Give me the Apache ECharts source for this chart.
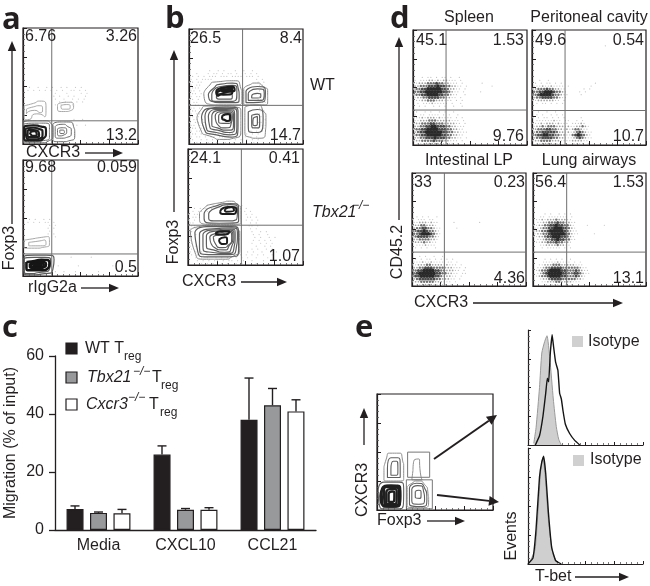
<!DOCTYPE html>
<html><head><meta charset="utf-8">
<style>html,body{margin:0;padding:0;background:#fff}#c{width:650px;height:586px}</style>
<script src="https://cdn.jsdelivr.net/npm/echarts@6/dist/echarts.min.js"></script>
</head><body><div id="c"></div>
<script>
// ---------- bar chart (c)
const categories = ['Media','CXCL10','CCL21'];
const wtValues = [7.2,26,38];
const tbx21Values = [5.9,7,43];
const cxcr3Values = [5.8,7,40.9];
const wtErrorTop = [8.3,29,52.4];
const tbx21ErrorTop = [6.2,7.4,48.8];
const cxcr3ErrorTop = [7.1,7.7,44.9];
const yTicks = [0,20,40,60];

// ---------- quadrant gates [x, y], in percent of each panel
const gateA1=[25,20], gateA2=[25,19], gateB1=[47,33.6], gateB2=[46.4,34.3];
const gateD1=[29,30.4], gateD2=[29,30], gateD3=[28.4,30], gateD4=[29.8,30];

// ---------- dot-plot density rows: [row, digits], 40x40 cells, 0 empty .. 5 densest
const spleen=[[16,"0001011010110100100"],[17,"1011122121221110100"],[18,"1122233343322111010000001"],[19,"2233344454433221101000000001"],[20,"2334455555443221101"],[21,"3344555555443211010000010"],[22,"2334455554433211001"],[23,"1223344443322110100"],[24,"0112233322211101010"],[25,"0101112111110100100"],[26,"0010100101010010010"],[28,"0100101001010010000"],[29,"1011011110101001000"],[30,"1112122212111101010"],[31,"1122233322222111010"],[32,"1223334433322221101"],[33,"2233445544433221110"],[34,"2334455554443322110"],[35,"2344555555443322111"],[36,"2334455555443322110"],[37,"2233444544433221101"],[38,"1223333433322111010"],[39,"0111222222111101000"]];
const peritoneal=[[5,"000000000000000000000000010"],[17,"0010010000000000"],[18,"0101011010100000000000100"],[19,"1112112111101000000010"],[20,"2233343322110000001010"],[21,"3344555433210000101"],[22,"3345555433211000010"],[23,"2334444332110000"],[24,"1122222211010"],[25,"0101101010100"],[28,"0010010010000"],[29,"0101001010100000"],[30,"1010110101010000010"],[31,"0111111211011001010"],[32,"1112122212111011121"],[33,"1223233322212112232100"],[34,"2233344332212123321100"],[35,"2334444432212123432110"],[36,"3344554433221134543210"],[37,"2334444332211123432110"],[38,"1223333222111122221100"],[39,"0112222111010011110100"]];
const intestinal=[[15,"0101010010"],[16,"1011101100"],[17,"1122212110000010000000010"],[18,"2223322210"],[19,"2334433211000001"],[20,"3344543321"],[21,"3345554321"],[22,"2344443321"],[23,"2233332210"],[24,"1222322110"],[25,"0111211100"],[26,"0101010010"],[29,"0010100100100000"],[30,"0101011010101010000"],[31,"1112112111101101000"],[32,"1122233222212111010"],[33,"2233444333322211101"],[34,"3344555544332221101"],[35,"3455555544332211011"],[36,"3445555544322211010"],[37,"2344444433222110100"],[38,"1223333322211101000"],[39,"0112222111110100000"]];
const lung=[[14,"0000101001010100"],[15,"0011011111110100"],[16,"0112122232221100"],[17,"0112233343322110"],[18,"1122334454433210000100000100"],[19,"1123344555443210"],[20,"1223345555543211"],[21,"1223345555543211000001"],[22,"1122344555443210"],[23,"0112334454433110"],[24,"0112233343322100"],[25,"0011222232211000"],[26,"0001011111010100"],[30,"00001010101001000000"],[31,"00011111211110101000"],[32,"00112223332222211100"],[33,"01123344443333332110"],[34,"01233455554433343211"],[35,"01234555554433443211"],[36,"01233455554433343210"],[37,"00122344443333322100"],[38,"00011222332222111000"],[39,"00001011110101000000"]];
const stippleB1=[[14,"000000010010100010010010000"],[15,"001000101101011010110101000"],[16,"010101011101110111101110100"],[17,"101011110000000000000001010"],[18,"110110000000000000000000101"],[19,"101100000000000000000000110"],[20,"011100000000000000000000011"],[21,"110100000000000000000000101"],[22,"011010000000000000000000010"],[23,"101100000000000000000000101"],[24,"110100000000000000000000110"],[25,"011000000000000000000000011"],[26,"101100000000000000000000101"],[27,"110100000000000000000000110"],[28,"011000000000000000000000011"],[29,"101100000000000000000000101"],[30,"110100000000000000000000010"],[31,"011010000000000000000000101"],[32,"101101000000000000000000110"],[33,"110110000000000000000000011"],[34,"011011100000000000000010101"],[35,"101101101000000000000101010"],[36,"011010110110001100101010100"],[37,"101101011011010111010101000"],[38,"010010101010101010101010100"],[39,"001000100100100100100010000"]];
const stippleB2=[[19,"00000010100101001010"],[20,"00101010110101101010100"],[21,"0101101000000000000101000"],[22,"1011000000000000000010100"],[23,"0110000000000000000011010"],[24,"1010000000000000000010101"],[25,"1100000000000000000001010"],[26,"0110000000000000000001101"],[27,"1010000000000000000001010"],[28,"0100000000000000000000100101"],[29,"1010000000000000000000101001"],[30,"0100000000000000000000010100101"],[31,"1000000000000000000000101010100"],[32,"0100000000000000000000100101010"],[33,"1010000000000000000000010010100"],[34,"0101000000000000000000101001010"],[35,"1010100000000000000010100100101"],[36,"0101010000000000001010101010010"],[37,"0010101001010100101010010001000"],[38,"0001010101101011010100100010000"],[39,"0000101010010100101000010000000"]];
const stippleA1=[[20,"00100100101001010010100"],[21,"01010101010101001101010"],[22,"00000000000100010000101"],[23,"00000000001010010100010"],[24,"00000000000100100101010"],[25,"00000000000010101010100"],[26,"00000000000101000100000"],[31,"00000000000000000100100"],[33,"00000000000000000010010"]];
const stippleA2=[[20,"00101001010000"],[21,"01010101101000"],[22,"00000000010100"],[23,"00000000101000"],[24,"00000000010000"],[25,"00000000101000"],[26,"00000000000100"],[33,"00000000001000001000000100"],[36,"00000000000010000001000000000001"],[38,"00000000000100100010000000100"]];

// ---------- contour loops [x,y,...], percent of panel; grouped by ink tone
const a1Light=[[1,33,9,35,14.5,37,20,31,19,23.5,12,26,4,21,1,24],[30,34,38,36,44,33,42,29,35,28,30,31],[3,30,9,32,14,33,17,30,15,27,10,29,3,26],[33,33,38,34,41,32,38,30,34,30]];
const a1Mid=[[0.5,19,8,20,17,20,24,18,26,10,23,3,12,1,0.5,1],[26,17,32,19,38,19,44,15,45,9,41,3,33,2,26,4],[28,15,34,17,39,15,42,11,39,6,32,5,28,8],[30,13,34,14,38,11,36,8,32,7,30,10],[32,12,35,12,36,10,34,9,32,10],[0.5,17,10,18,18,18,23,14,23,7,18,3,8,2,0.5,3]];
const a1Dark=[[1,15,9,16,16,15,20,11,18,5,10,3,1,4],[2,13,9,14,14,13,17,9,15,5,8,4,3,6],[4,12,9,12,13,11,14,8,11,6,6,6,4,8],[6,10,10,11,12,8,9,7,7,8]];
const a2Light=[[1,31,8,32,14,33,22,34,23,29,19,25,10,24,1,24],[5,29,13,30,19,31,20,28,13,26,5,26]];
const a2Mid=[[1,17,10,18,20,18,27,14,26,6,19,2,8,1,1,2],[1,15,10,16,19,16,24,13,23,6,14,3,6,2,1,4]];
const a2Dark=[[3,12,10,13,16,14,23,11,22,7,13,5,6,5,3,7],[6,11,14,12,20,10,19,8,12,7,6,8],[7,10,13,11,18,10,17,8,12,8,8,8],[9,10,14,10,16,9,12,9]];
const b1Light=[[13,44,17,50,24,54,39,55,45,50,46.4,42,46,35,33,34,16,35],[7,23,10,29,17,33,33,33,42,32,45.5,26,45.5,15,39,5,30,4,18,7,10,13],[48,48,52,51,59,53,65,50,69,45,69,38,66,34,48,34],[49,32,59,34,65,29,67.5,23,67,10,60,5,53,6,49,13]];
const b1Mid=[[17,43,21,48,28,52,38,53,43,49,44,41,41,36,30,36,20,37],[20,43,28,50,38,51,42,46,41,38,30,37,20,38],[11,23,17,31,33,32,43,29,43,16,37,6,24,8,13,14],[14,24,20,31,33,31,42,27,42,16,36,8,24,10,15,15],[17,24,23,30,33,30,40,26,40,17,35,10,25,12,18,16],[20,24,25,29,33,29,39,25,39,17,33,12,25,14,20,18],[23,24,27,28,34,28,38,24,37,18,32,14,26,16],[26,24,30,27,35,27,37,23,35,18,30,18,26,20],[52,44,60,48,66,44,64,38,52,38],[55,42,60,44,63,42,60,40,55,40],[52,28,60,30,65,22,64,12,57,10,52,16],[55,25,60,26,62,20,61,14,57,14,55,18],[57,23,60,24,60,18,58,16,56,19],[24,41,30,44,36,45,38,41,34,39,26,39],[50,46,60,50,67,45,66,37,50,36]];
const b1Dark=[[24,46,30,49,38,50,40,47,32,45,25,42],[28,47,33,49,38,49,36,47,30,46],[30,25,34,26,36,23,34,20,31,21,29,23],[24,44,30,47,37,48,38,45,30,43]];
const b2Light=[[10,45,14,49,19,52,30,54,36,55,43,52,46,47,46,36,25,35,10,40],[2,30,9,33,16,34,39,34,43,31,45,27,45,14,40,8,30,5,16,5,6,11]];
const b2Mid=[[14,44,21,50,37,53,44,48,44,38,27,36,14,40],[18,44,24,49,37,52,43,47,42,39,28,38,18,40],[6,28,16,33,38,33,44,27,44,14,35,7,17,7,8,14],[10,27,18,31,38,32,43,26,42,15,34,9,18,9,10,16],[13,26,20,30,38,31,41,26,40,15,33,10,20,11,13,17],[16,25,22,29,37,30,40,25,38,16,32,11,22,13,16,18],[19,24,24,27,37,29,39,24,36,17,31,13,23,15],[22,24,26,26,37,28,38,24,35,17,30,15,24,18]];
const b2Dark=[[28,46,35,50,42,48,40,44,30,44],[24,27,30,29,36,29,35,27,28,26],[27,22,32,24,34,21,31,18,28,19],[32,48,38,50,40,47,33,46]];
const eLight=[[6,37,8,44,11,49,19,49,22,43,23,37,23,26,14,25,6,26],[26,20,30,23,34.5,25,41,22,44,14,44.5,9,40,2,26,3],[31,34,32,43,36,44,37.4,32,39,26,30,26]];
const eMid=[[9,36,12,45,18,45,20,37,20,28,9,28],[12,35,14,42,17,42,18,35,17,30,12,30],[30,18,35,21,40,17,41,9,36,5,30,8],[33,16,36,17,38,14,37,10,33,11],[1,17,6,24,19,24,23,17,20,1,4,1],[28,19,34,23,41,19,43,10,38,3,28,5]];
const eDark=[[4,16,8,21,18,21,20,15,17,3,6,3],[8,15,11,18,16,18,17,13,15,5,8,5],[10,14,13,16,15,14,14,7,10,7],[6,19,9,20,18,19,19,14,16,4,7,4],[3,12,6,19,12,21,20,12,14,3,5,4]];
const gateUpper=[[26.4,49.9],[45.4,49.9],[45.4,28.2],[26.4,28.2],[26.4,49.9]];
const gateLower=[[25.3,26],[47.7,26],[47.7,1],[25.3,1],[25.3,26]];

// ---------- histograms [x%, height%]
const isotypeTop=[[5,1.5],[7,15],[10,50],[12,80],[14.5,90],[16.5,95],[19,75],[22,40],[24.6,16],[26.7,5],[29,0]];
const tbetTop=[[6.4,0],[10,8],[13,25],[15.4,45],[16.8,58],[18,55],[19.4,80],[21,96],[22.3,85],[24,72],[26,65],[27.5,45],[29,40],[30.4,30],[32.5,18],[36.2,10],[40.6,4],[45,0]];
const isotypeBottom=[[1,1],[6,12],[8.7,45],[11,80],[13,92],[15.4,70],[18,35],[21.7,9],[26,0]];
const tbetBottom=[[0,0],[4.3,5],[7,30],[10,75],[12,88],[13.6,93],[15.4,78],[17.7,45],[20.6,14],[24,3],[29,0]];

// ---------- build
const INK='#231f20', FONT='"Liberation Sans",Arial,sans-serif';
const grids=[],xAxes=[],yAxes=[],series=[],graphic=[];
function panel(left,top,w,h,box){
  const i=grids.length;
  grids.push({left,top,width:w,height:h,show:!!box,borderColor:INK,borderWidth:1.2,backgroundColor:'transparent',containLabel:false});
  const ax=()=>({type:'value',gridIndex:i,min:0,max:100,interval:25,splitLine:{show:false},axisLabel:{show:false},
    axisLine:{show:true,onZero:false,lineStyle:{color:INK,width:1.2}},axisTick:{show:true,inside:true,length:4,lineStyle:{color:INK,width:1}},
    minorTick:{show:true,splitNumber:5,length:2,lineStyle:{color:'#555',width:.8}},minorSplitLine:{show:false}});
  xAxes.push(ax());yAxes.push(ax());
  return i;
}
const levelSize=[0,1.2,1.7,2.4,3,3.7], levelColor=['','#c2c2c2','#a0a0a0','#727272','#4a4a4a','#2a2a2a'];
function density(g,rows,light){
  const data=[];
  rows.forEach(([r,s])=>{[...s].forEach((c,k)=>{const v=+c;if(v)data.push([(k+.5)*2.5+(r%2?.6:-.6),100-(r+.5)*2.5,v]);});});
  series.push({type:'scatter',xAxisIndex:g,yAxisIndex:g,silent:true,animation:false,data,
    symbolSize:d=>levelSize[d[2]],itemStyle:{color:p=>light?'#c8c8c8':levelColor[p.data[2]],opacity:1}});
}
function loops(g,list,color,width){
  list.forEach(l=>{const d=[];for(let i=0;i<l.length;i+=2)d.push([l[i],l[i+1]]);d.push(d[0]);
    series.push({type:'line',xAxisIndex:g,yAxisIndex:g,data:d,smooth:.9,showSymbol:false,silent:true,animation:false,lineStyle:{color,width}});});
}
function gate(g,[gx,gy]){
  [[[gx,0],[gx,100]],[[0,gy],[100,gy]]].forEach(d=>series.push({type:'line',xAxisIndex:g,yAxisIndex:g,data:d,showSymbol:false,silent:true,animation:false,z:5,lineStyle:{color:'#6f6f6f',width:1}}));
}
function T(text,x,y,o={}){graphic.push({type:'text',x,y,rotation:o.rot||0,z:50,silent:true,style:{text,fill:INK,fontFamily:o.family||FONT,fontSize:o.size||16,fontWeight:o.weight||'normal',fontStyle:o.style||'normal',align:o.align||'left',verticalAlign:o.va||'middle'}});}
function arrow(x1,y1,x2,y2,lw=1.3,hl=10,hw=4.2){
  const L=Math.hypot(x2-x1,y2-y1),ux=(x2-x1)/L,uy=(y2-y1)/L,bx=x2-ux*hl,by=y2-uy*hl;
  graphic.push({type:'line',z:40,silent:true,shape:{x1,y1,x2:bx,y2:by},style:{stroke:INK,lineWidth:lw}});
  graphic.push({type:'polygon',z:40,silent:true,shape:{points:[[x2,y2],[bx-uy*hw,by+ux*hw],[bx+uy*hw,by-ux*hw]]},style:{fill:INK}});
}
function quad(labels){labels.forEach(([t,x,y,a])=>T(t,x,y,{align:a||'left'}));}

// a
let g=panel(23,28,115,116,true);density(g,stippleA1,true);loops(g,a1Light,'#a8a8a8',1);loops(g,a1Mid,'#6a6a6a',1);loops(g,a1Dark,'#1d1d1d',2.2);gate(g,gateA1);
g=panel(23,160,115,116,true);density(g,stippleA2,true);loops(g,a2Light,'#a8a8a8',1);loops(g,a2Mid,'#5a5a5a',1.2);loops(g,a2Dark,'#151515',2.6);gate(g,gateA2);
// b
g=panel(189,29,114,115,true);density(g,stippleB1,true);loops(g,b1Light,'#8a8a8a',1);loops(g,b1Mid,'#5f5f5f',1.2);loops(g,b1Dark,'#1d1d1d',2.2);gate(g,gateB1);
g=panel(188,149,115,116,true);density(g,stippleB2,true);loops(g,b2Light,'#8a8a8a',1);loops(g,b2Mid,'#5f5f5f',1.2);loops(g,b2Dark,'#1d1d1d',2);gate(g,gateB2);
// d
g=panel(413,30,114,115,true);density(g,spleen);gate(g,gateD1);
g=panel(532,30,114,115,true);density(g,peritoneal);gate(g,gateD2);
g=panel(412,173,114,113,true);density(g,intestinal);gate(g,gateD3);
g=panel(533,173,113,113,true);density(g,lung);gate(g,gateD4);
// e contour
g=panel(377,394,116,116,true);loops(g,eLight,'#8f8f8f',1);loops(g,eMid,'#5f5f5f',1.1);loops(g,eDark,'#1f1f1f',2.4);
[gateUpper,gateLower].forEach(d=>series.push({type:'line',xAxisIndex:g,yAxisIndex:g,data:d,showSymbol:false,silent:true,animation:false,z:5,lineStyle:{color:'#777',width:1}}));
// e histograms
function hist(top,iso,tb){
  const i=panel(528,top,115,top===330?115:116,false);
  xAxes[i].axisTick.length=3;yAxes[i].axisTick.length=3;
  series.push({type:'line',xAxisIndex:i,yAxisIndex:i,data:iso,showSymbol:false,silent:true,animation:false,smooth:.2,lineStyle:{color:'#9a9a9a',width:1},areaStyle:{color:'#cfcfcf',opacity:1}});
  series.push({type:'line',xAxisIndex:i,yAxisIndex:i,data:tb,showSymbol:false,silent:true,animation:false,smooth:.1,z:4,lineStyle:{color:'#151515',width:1.4}});
}
hist(330,isotypeTop,tbetTop);hist(448,isotypeBottom,tbetBottom);

// c bar chart
const bi=grids.length;
grids.push({left:55,top:356,width:261,height:174});
xAxes.push({type:'category',gridIndex:bi,data:categories,axisLine:{lineStyle:{color:INK,width:1.3}},axisTick:{alignWithLabel:true,length:5,lineStyle:{color:INK,width:1.3}},axisLabel:{color:INK,fontSize:16,fontFamily:FONT,margin:8}});
yAxes.push({type:'value',gridIndex:bi,min:0,max:60,interval:20,splitLine:{show:false},axisLine:{show:true,lineStyle:{color:INK,width:1.3}},axisTick:{show:true,length:6,lineStyle:{color:INK,width:1.3}},
  axisLabel:{color:INK,fontSize:16,fontFamily:FONT,margin:11,customValues:yTicks},name:'Migration (% of input)',nameLocation:'middle',nameGap:36,nameTextStyle:{color:INK,fontSize:16,fontFamily:FONT}});
[[wtValues,INK],[tbx21Values,'#97999b'],[cxcr3Values,'#fff']].forEach(([d,c])=>series.push({type:'bar',xAxisIndex:bi,yAxisIndex:bi,data:d,barWidth:17,barGap:'38%',animation:false,silent:true,itemStyle:{color:c,borderColor:INK,borderWidth:1.2}}));
[wtErrorTop,tbx21ErrorTop,cxcr3ErrorTop].forEach((top,k)=>series.push({type:'custom',xAxisIndex:bi,yAxisIndex:bi,silent:true,animation:false,z:1,
  data:top.map((v,i)=>[i,v,[wtValues,tbx21Values,cxcr3Values][k][i]]),encode:{x:0,y:1},
  renderItem:(p,api)=>{const a=api.coord([api.value(0),api.value(1)]),b=api.coord([api.value(0),api.value(2)]),x=a[0]+(k-1)*23.5,st={stroke:INK,lineWidth:1.4};
    return {type:'group',children:[{type:'line',shape:{x1:x,y1:a[1],x2:x,y2:b[1]},style:st},{type:'line',shape:{x1:x-4.5,y1:a[1],x2:x+4.5,y2:a[1]},style:st}]};}}));

// panel letters
const LF='"Open Sans",sans-serif';
[['a',2,36],['b',165,35],['d',390,35],['c',2,344],['e',355,344]].forEach(([t,x,y])=>T(t,x,y,{size:31,weight:'bold',family:LF,va:'bottom'}));
// quadrant numbers
quad([['6.76',25,37],['3.26',137,37,'right'],['13.2',137,136,'right'],['9.68',25,168],['0.059',137,168,'right'],['0.5',137,268,'right'],
['26.5',190,39],['8.4',302,39,'right'],['14.7',301,136,'right'],['24.1',190,159],['0.41',300,159,'right'],['1.07',300,257,'right'],
['45.1',416,41],['1.53',524,41,'right'],['9.76',524,137,'right'],['49.6',535,41],['0.54',644,41,'right'],['10.7',644,137,'right'],
['33',414,183],['0.23',525,183,'right'],['4.36',525,279,'right'],['56.4',535,183],['1.53',644,183,'right'],['13.1',644,279,'right']]);
// titles
[['Spleen',469,18],['Peritoneal cavity',589,18],['Intestinal LP',469,161],['Lung airways',589,161]].forEach(([t,x,y])=>T(t,x,y,{align:'center'}));
// axis titles
const R=Math.PI/2;
T('CXCR3',26,153);arrow(85,153,123,153);
T('rIgG2a',28,288);arrow(81,288,119,288);
T('Foxp3',10,248,{rot:R,align:'center'});arrow(12,224,12,41);
T('Foxp3',174,242,{rot:R,align:'center'});arrow(174,212,174,50);
T('CXCR3',182,282);arrow(241,282,287,282);
T('WT',310,86);T('Tbx21',312,213,{style:'italic'});T('\u2212/\u2212',352,206,{size:12,style:'italic'});
T('CD45.2',398,252,{rot:R,align:'center'});arrow(399,220,399,37);
T('CXCR3',414,303);arrow(473,303,623,303);
T('CXCR3',363,490,{rot:R,align:'center'});arrow(364,445,364,408);
T('Foxp3',377,521);arrow(427,521,465,521);
arrow(434,459,497,415,2,10,5);arrow(437,495,499,502,2,10,5);
T('Events',512,536,{rot:R,align:'center'});
T('T-bet',535,577);arrow(575,577,629,577);
// isotype keys
[[572,336,588,342],[573,455,590,460]].forEach(([x,y,tx,ty])=>{graphic.push({type:'rect',z:50,silent:true,shape:{x,y,width:11,height:11},style:{fill:'#d0d0d0'}});T('Isotype',tx,ty);});
// c legend
[[66,343,INK],[66,372,'#97999b'],[66,399,'#fff']].forEach(([x,y,c])=>graphic.push({type:'rect',z:50,silent:true,shape:{x,y,width:11,height:11},style:{fill:c,stroke:INK,lineWidth:1.2}}));
T('WT T',85,349);T('reg',124,357,{size:12});
T('Tbx21',87,378,{style:'italic'});T('\u2212/\u2212',133,372,{size:12,style:'italic'});T('T',152,378);T('reg',161,386,{size:12});
T('Cxcr3',86,405,{style:'italic'});T('\u2212/\u2212',128,398,{size:12,style:'italic'});T('T',149,405);T('reg',160,413,{size:12});

const chart=echarts.init(document.getElementById('c'),null,{renderer:'canvas'});
chart.setOption({animation:false,backgroundColor:'#fff',grid:grids,xAxis:xAxes,yAxis:yAxes,series,graphic:{elements:graphic}});
</script></body></html>
